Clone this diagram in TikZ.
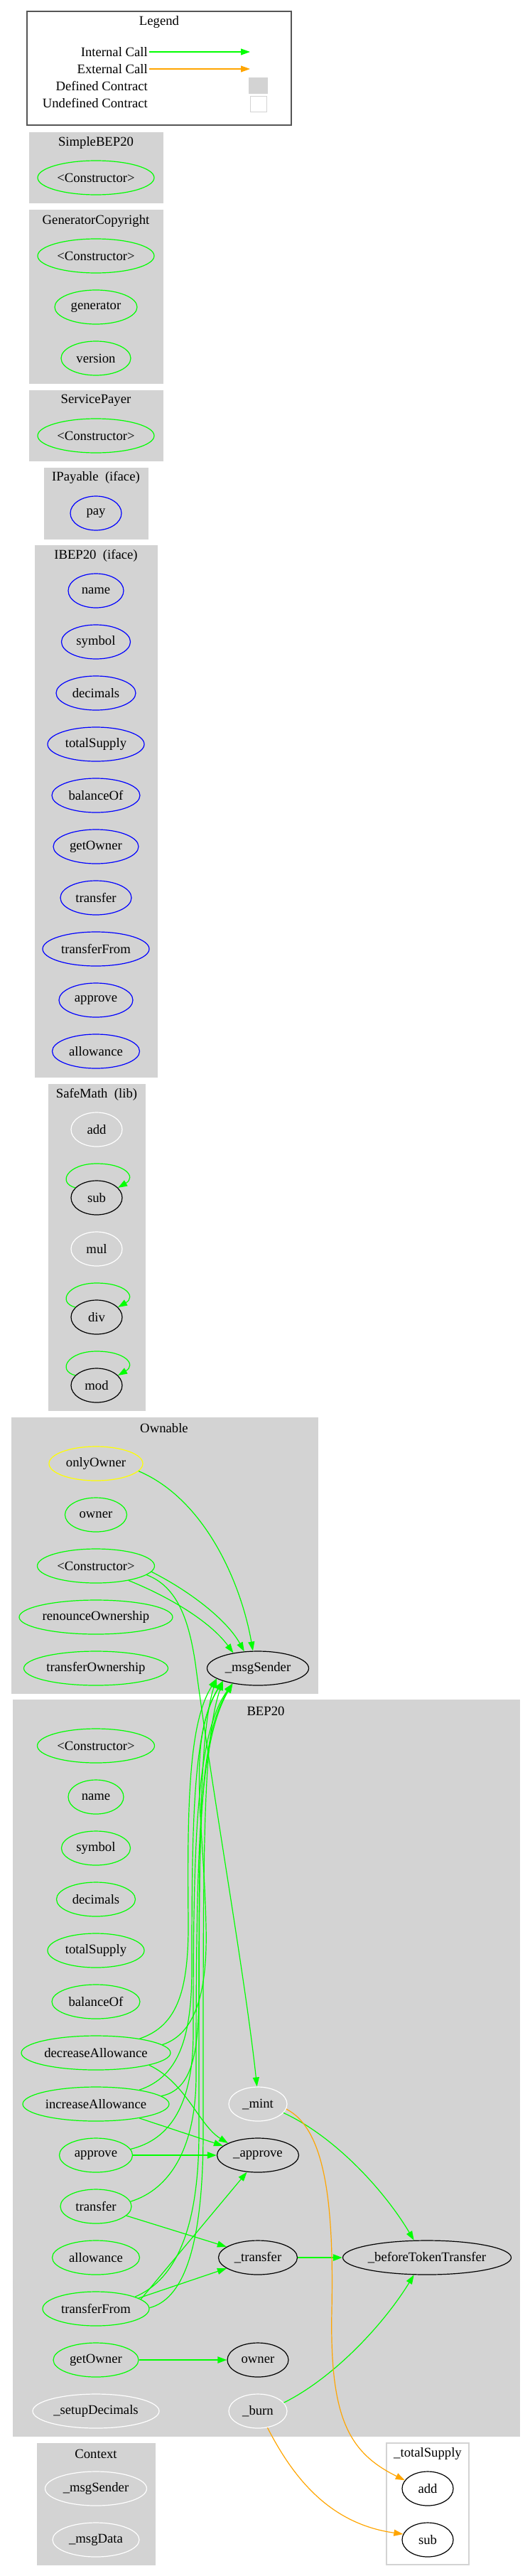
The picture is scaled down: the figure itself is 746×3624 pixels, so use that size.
\documentclass[tikz,border=0pt]{standalone}
\usepackage{fontspec}
\setmainfont{Liberation Serif}
\usetikzlibrary{shapes.geometric,arrows.meta}
\definecolor{lg}{HTML}{D3D3D3}
\definecolor{gn}{HTML}{00FF00}
\definecolor{og}{HTML}{FFA500}
\definecolor{bl}{HTML}{0000FF}
\definecolor{yl}{HTML}{FFFF00}
\definecolor{lgd}{HTML}{555555}
\newcommand\ct[1]{\makebox[0pt]{#1}}
\begin{document}
\begin{tikzpicture}[x=1pt,y=-1pt,
  every node/.style={font=\fontsize{18.7}{22}\selectfont},
  fn/.style={ellipse, inner sep=0pt, minimum height=48pt, line width=1.2pt},
  gfn/.style={fn, draw=gn},
  bfn/.style={fn, draw=bl},
  wfn/.style={fn, draw=white},
  kfn/.style={fn, draw=black},
  yfn/.style={fn, draw=yl},
  cl/.style={fill=lg, draw=lg, line width=1pt},
  ttl/.style={inner sep=0pt},
  ie/.style={draw=gn, line width=1.2pt, -{Triangle[length=13pt,width=9pt]}},
  ieT/.style={ie, line width=2.2pt},
  ee/.style={draw=og, line width=1.2pt, -{Triangle[length=13pt,width=9pt]}}]
\useasboundingbox (0,0) rectangle (746,3624);

% ---------- Legend ----------
\draw[draw=lgd, line width=1.5pt] (38,16) rectangle (410,176);
\node[ttl] (legT) at (224,31) {Legend};
\node[anchor=east, inner sep=2pt] (lgI) at (210,73) {Internal Call};
\node[anchor=east, inner sep=2pt] (lgE) at (210,97) {External Call};
\node[anchor=east, inner sep=2pt] (lgD) at (210,121) {Defined Contract};
\node[anchor=east, inner sep=2pt] (lgU) at (210,145) {Undefined Contract};
\coordinate (lgIa) at (352,73);
\coordinate (lgEa) at (352,97);
\draw[ie] (lgI.east) -- (lgIa);
\draw[ee] (lgE.east) -- (lgEa);
\node[fill=lg, minimum width=27pt, minimum height=23pt, inner sep=0pt] (lgDb) at (363.5,120.5) {};
\node[draw=lg, fill=white, line width=1pt, minimum width=23pt, minimum height=22pt, inner sep=0pt] (lgUb) at (363.5,146) {};

% ---------- SimpleBEP20 ----------
\path[cl] (41,186) rectangle (229,285);
\node[ttl] (tSB) at (135,201) {SimpleBEP20};
\node[gfn, minimum width=164pt] (sbC) at (135,250) {\ct{<Constructor>}};

% ---------- GeneratorCopyright ----------
\path[cl] (41,295) rectangle (229,539);
\node[ttl] (tGC) at (135,311) {GeneratorCopyright};
\node[gfn, minimum width=164pt] (gcC) at (135,360) {\ct{<Constructor>}};
\node[gfn, minimum width=116pt] (gcG) at (135,432) {\ct{generator}};
\node[gfn, minimum width=98pt] (gcV) at (135,504) {\ct{version}};

% ---------- ServicePayer ----------
\path[cl] (41,549) rectangle (229,648);
\node[ttl] (tSP) at (135,563) {ServicePayer};
\node[gfn, minimum width=164pt] (spC) at (135,613) {\ct{<Constructor>}};

% ---------- IPayable ----------
\path[cl] (62,658) rectangle (208,758);
\node[ttl] (tIP) at (135,672) {IPayable\ \ (iface)};
\node[bfn, minimum width=72pt] (ipPay) at (135,722) {\ct{pay}};

% ---------- IBEP20 ----------
\path[cl] (49,767) rectangle (221,1515);
\node[ttl] (tIB) at (135,782) {IBEP20\ \ (iface)};
\node[bfn, minimum width=78pt] (ibName) at (135,831) {\ct{name}};
\node[bfn, minimum width=97pt] (ibSym) at (135,903) {\ct{symbol}};
\node[bfn, minimum width=112pt] (ibDec) at (135,975) {\ct{decimals}};
\node[bfn, minimum width=136pt] (ibTot) at (135,1047) {\ct{totalSupply}};
\node[bfn, minimum width=124pt] (ibBal) at (135,1119) {\ct{balanceOf}};
\node[bfn, minimum width=120pt] (ibGO) at (135,1191) {\ct{getOwner}};
\node[bfn, minimum width=100pt] (ibTr) at (135,1263) {\ct{transfer}};
\node[bfn, minimum width=150pt] (ibTF) at (135,1335) {\ct{transferFrom}};
\node[bfn, minimum width=104pt] (ibAp) at (135,1407) {\ct{approve}};
\node[bfn, minimum width=123pt] (ibAl) at (135,1479) {\ct{allowance}};

% ---------- SafeMath ----------
\path[cl] (68,1525) rectangle (204,1984);
\node[ttl] (tSM) at (136,1540) {SafeMath\ \ (lib)};
\node[wfn, minimum width=72pt] (smAdd) at (136,1589) {\ct{add}};
\node[kfn, minimum width=72pt] (smSub) at (136,1685) {\ct{sub}};
\node[wfn, minimum width=72pt] (smMul) at (136,1757) {\ct{mul}};
\node[kfn, minimum width=72pt] (smDiv) at (136,1853) {\ct{div}};
\node[kfn, minimum width=72pt] (smMod) at (136,1949) {\ct{mod}};
\draw[ie] (smSub.155) .. controls (80,1664) and (95,1637) .. (136,1637) .. controls (177,1637) and (192,1656) .. (smSub.25);
\draw[ie] (smDiv.155) .. controls (80,1832) and (95,1805) .. (136,1805) .. controls (177,1805) and (192,1824) .. (smDiv.25);
\draw[ie] (smMod.155) .. controls (80,1928) and (95,1901) .. (136,1901) .. controls (177,1901) and (192,1920) .. (smMod.25);

% ---------- Ownable ----------
\path[cl] (16,1994) rectangle (447,2382);
\node[ttl] (tOw) at (231,2009) {Ownable};
\node[yfn, minimum width=132pt] (owOO) at (135,2059) {\ct{onlyOwner}};
\node[gfn, minimum width=87pt] (owOwner) at (135,2131) {\ct{owner}};
\node[gfn, minimum width=165pt] (owC) at (135,2203) {\ct{<Constructor>}};
\node[gfn, minimum width=216pt] (owRen) at (135,2275) {\ct{renounceOwnership}};
\node[gfn, minimum width=203pt] (owTO) at (135,2347) {\ct{transferOwnership}};
\node[kfn, minimum width=143pt] (om) at (363,2347) {\ct{\_msgSender}};

% ---------- BEP20 ----------
\path[cl] (18.6,2391) rectangle (731,3427);
\node[ttl] (tB) at (374,2407) {BEP20};
\node[gfn, minimum width=165pt] (bC) at (135,2456) {\ct{<Constructor>}};
\node[gfn, minimum width=78pt] (bName) at (135,2528) {\ct{name}};
\node[gfn, minimum width=97pt] (bSym) at (135,2600) {\ct{symbol}};
\node[gfn, minimum width=111pt] (bDecim) at (135,2672) {\ct{decimals}};
\node[gfn, minimum width=136pt] (bTot) at (135,2744) {\ct{totalSupply}};
\node[gfn, minimum width=124pt] (bBal) at (135,2816) {\ct{balanceOf}};
\node[gfn, minimum width=210pt] (bDec) at (135,2888) {\ct{decreaseAllowance}};
\node[gfn, minimum width=206pt] (bInc) at (135,2960) {\ct{increaseAllowance}};
\node[gfn, minimum width=103pt] (bAppr) at (135,3032) {\ct{approve}};
\node[gfn, minimum width=100pt] (bTr) at (135,3104) {\ct{transfer}};
\node[gfn, minimum width=123pt] (bAllow) at (135,3176) {\ct{allowance}};
\node[gfn, minimum width=150pt] (bTF) at (135,3248) {\ct{transferFrom}};
\node[gfn, minimum width=120pt] (bGO) at (135,3320) {\ct{getOwner}};
\node[wfn, minimum width=178pt] (bSetup) at (135,3392) {\ct{\_setupDecimals}};
\node[wfn, minimum width=82pt] (bMint) at (363,2960) {\ct{\_mint}};
\node[kfn, minimum width=115pt] (bApp_) at (363,3032) {\ct{\_approve}};
\node[kfn, minimum width=111pt] (bTr_) at (363,3176) {\ct{\_transfer}};
\node[kfn, minimum width=86pt] (bOwner) at (363,3320) {\ct{owner}};
\node[wfn, minimum width=82pt] (bBurn) at (363,3392) {\ct{\_burn}};
\node[kfn, minimum width=237pt] (bBTT) at (601,3176) {\ct{\_beforeTokenTransfer}};

% ---------- Context ----------
\path[cl] (52,3437) rectangle (218,3608);
\node[ttl] (tCx) at (135,3452) {Context};
\node[wfn, minimum width=143pt] (cMS) at (135,3501) {\ct{\_msgSender}};
\node[wfn, minimum width=122pt] (cMD) at (135,3573) {\ct{\_msgData}};

% ---------- _totalSupply ----------
\draw[draw=lg, fill=white, line width=1.2pt] (544,3437) rectangle (660,3608);
\node[ttl] (tTS) at (602,3452) {\_totalSupply};
\node[kfn, minimum width=72pt] (tsAdd) at (602,3501) {\ct{add}};
\node[kfn, minimum width=72pt] (tsSub) at (602,3573) {\ct{sub}};

% ---------- Ownable edges ----------
\draw[ie] (owOO.-10) .. controls (290,2110) and (340,2230) .. (om.106);
\draw[ie] (owC.-6) .. controls (270,2240) and (320,2280) .. (om.129);
\draw[ie] (owC.-24) .. controls (235,2245) and (295,2280) .. (om.148);
\draw[ie] (owC.-10) .. controls (250,2232) and (266,2280) .. (275,2340) .. controls (300,2530) and (345,2780) .. (bMint.93);

% ---------- BEP20 -> _msgSender ----------
\draw[ie] (bDec.18) .. controls (250,2850) and (266,2800) .. (265,2700) .. controls (263,2520) and (268,2420) .. (om.194);
\draw[ie] (bDec.7) .. controls (280,2860) and (292,2790) .. (290,2710) .. controls (287,2560) and (262,2450) .. (om.200);
\draw[ie] (bInc.18) .. controls (250,2922) and (270,2870) .. (270,2770) .. controls (270,2560) and (272,2430) .. (om.200);
\draw[ie] (bInc.7) .. controls (270,2940) and (280,2890) .. (280,2800) .. controls (280,2560) and (282,2440) .. (om.211);
\draw[ie] (bAppr.10) .. controls (240,3010) and (272,2960) .. (272,2860) .. controls (272,2600) and (275,2440) .. (om.211);
\draw[ie] (bTr.8) .. controls (240,3080) and (276,3020) .. (276,2920) .. controls (276,2600) and (280,2450) .. (om.211);
\draw[ie] (bTF.17) .. controls (240,3210) and (280,3150) .. (280,3000) .. controls (280,2600) and (280,2440) .. (om.194);
\draw[ie] (bTF.1) .. controls (255,3235) and (286,3170) .. (286,3000) .. controls (286,2600) and (285,2450) .. (om.200);

% ---------- BEP20 internal edges ----------
\draw[ie] (bDec.-13) .. controls (262,2930) and (280,2990) .. (bApp_.158);
\draw[ie] (bInc.-18) -- (bApp_.165);
\draw[ieT] (bAppr.0) -- (bApp_.180);
\draw[ie] (bTF.12) -- (bApp_.237);
\draw[ie] (bTr.-17) -- (bTr_.161);
\draw[ie] (bTF.14) -- (bTr_.199);
\draw[ieT] (bTr_.0) -- (bBTT.180);
\draw[ieT] (bGO.0) -- (bOwner.180);
\draw[ie] (bMint.-19) .. controls (470,3005) and (540,3080) .. (bBTT.127);
\draw[ie] (bBurn.18) .. controls (470,3345) and (540,3270) .. (bBTT.233);

% ---------- external calls ----------
\draw[ee] (bMint.-10) .. controls (458,2995) and (470,3100) .. (467,3250) .. controls (464,3400) and (490,3450) .. (tsAdd.160);
\draw[ee] (bBurn.-60) .. controls (410,3480) and (460,3550) .. (tsSub.167);
\end{tikzpicture}
\end{document}
